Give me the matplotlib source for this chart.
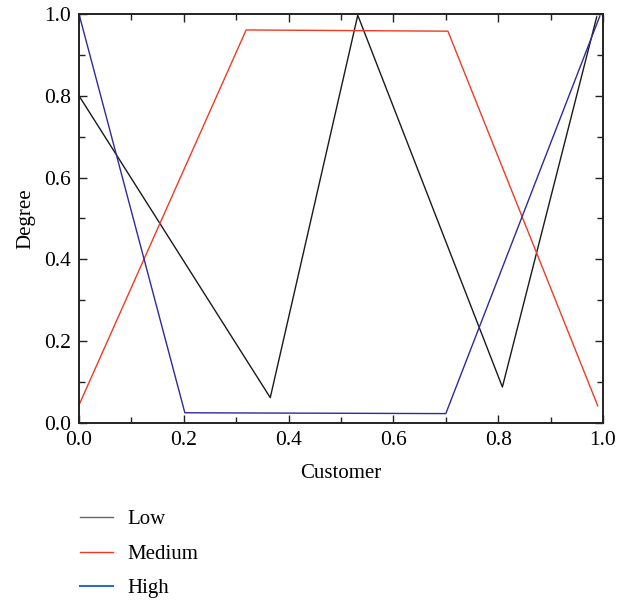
import matplotlib
matplotlib.use("Agg")
import matplotlib.pyplot as plt
from matplotlib.lines import Line2D
from matplotlib.ticker import MultipleLocator

plt.rcParams['font.family'] = ['Liberation Serif', 'DejaVu Serif']

low_x = [0.0, 0.365, 0.532, 0.808, 0.988]
low_y = [0.80, 0.062, 0.997, 0.088, 0.993]
med_x = [0.0, 0.319, 0.704, 0.990]
med_y = [0.044, 0.961, 0.958, 0.042]
high_x = [0.0, 0.202, 0.700, 0.994]
high_y = [1.0, 0.025, 0.023, 0.995]
labels = ["Low", "Medium", "High"]

fig = plt.figure(figsize=(6.27, 6.01), dpi=100)
ax = fig.add_axes([79/627, 1 - 423/601, 524/627, 409/601])
ax.plot(low_x, low_y, color='#1a1a1a', lw=1.0, clip_on=False)
ax.plot(med_x, med_y, color='#f03a22', lw=1.0, clip_on=False)
ax.plot(high_x, high_y, color='#2d2a9c', lw=1.0, clip_on=False)
ax.set_xlim(0, 1)
ax.set_ylim(0, 1)
ax.xaxis.set_major_locator(MultipleLocator(0.2))
ax.xaxis.set_minor_locator(MultipleLocator(0.1))
ax.yaxis.set_major_locator(MultipleLocator(0.2))
ax.yaxis.set_minor_locator(MultipleLocator(0.1))
ax.tick_params(which='both', direction='in', top=True, right=True, labelsize=15.5, width=1.0, color='#222222')
ax.tick_params(which='major', length=6)
ax.tick_params(which='minor', length=4)
ax.tick_params(axis='x', pad=6)
ax.tick_params(axis='y', pad=6)
for s in ax.spines.values():
    s.set_linewidth(1.4)
    s.set_color('#222222')
ax.set_xlabel("Customer", fontsize=15, labelpad=10)
ax.set_ylabel("Degree", fontsize=15, labelpad=6)

handles = [Line2D([], [], color='#666666', lw=1.0),
           Line2D([], [], color='#f03a22', lw=1.0),
           Line2D([], [], color='#2a6fc0', lw=1.5)]
fig.legend(handles, labels, loc='upper left', bbox_to_anchor=(61/627, 1 - 491/601),
           frameon=False, fontsize=15, handlelength=1.6, handletextpad=0.7, labelspacing=0.72)
fig.savefig("out.png", dpi=100)
